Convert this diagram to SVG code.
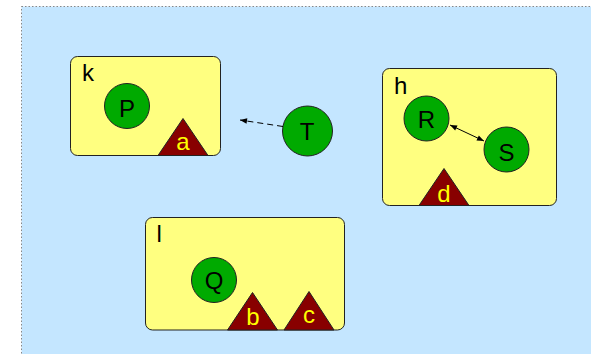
<svg xmlns="http://www.w3.org/2000/svg" width="591" height="354" viewBox="0 0 591 354">
<defs>
<style>
.bg{fill:#c4e6ff;stroke:#888;stroke-width:1;stroke-dasharray:1.5,2}
.box{fill:#ffff80;stroke:#222;stroke-width:1}
.circ{fill:#00aa00;stroke:#222;stroke-width:1}
.tri{fill:#880000;stroke:#222;stroke-width:1}
.lbl{font-family:"Liberation Sans",Arial,sans-serif;font-size:24px;fill:#000}
.nl{font-family:"Liberation Sans",Arial,sans-serif;font-size:24px;fill:#000;text-anchor:middle}
.tl{font-family:"Liberation Sans",Arial,sans-serif;font-size:24px;fill:#ffff00;text-anchor:middle}
.edge{stroke:#000;stroke-width:1;fill:none}
</style>
<marker id="ah" viewBox="0 0 10 10" refX="10" refY="5" markerWidth="9" markerHeight="7" markerUnits="userSpaceOnUse" orient="auto-start-reverse">
<path d="M0,1 L10,5 L0,9 z" fill="#000"/>
</marker>
</defs>
<rect x="21.5" y="6.5" width="580" height="360" class="bg"/>
<g id="k">
<rect x="70.5" y="56.5" width="150" height="99" rx="7" class="box"/>
<text x="82" y="81.3" class="lbl">k</text>
</g>
<g id="P">
<circle cx="127" cy="106" r="22.5" class="circ"/>
<text x="127" y="117.3" class="nl">P</text>
</g>
<g id="a">
<polygon points="183,118.5 158,155.5 208,155.5" class="tri"/>
<text x="183" y="150" class="tl">a</text>
</g>
<g id="T">
<circle cx="307.5" cy="131" r="25" class="circ"/>
<text x="307" y="140" class="nl">T</text>
</g>
<g id="h">
<rect x="382.5" y="68.5" width="174" height="137" rx="7" class="box"/>
<text x="394" y="94" class="lbl">h</text>
</g>
<g id="R">
<circle cx="426.5" cy="118.5" r="22.5" class="circ"/>
<text x="426.5" y="128.3" class="nl">R</text>
</g>
<g id="S">
<circle cx="506.5" cy="149.5" r="22.5" class="circ"/>
<text x="506.5" y="160.5" class="nl">S</text>
</g>
<g id="d">
<polygon points="444,168.5 419,205.5 469,205.5" class="tri"/>
<text x="444" y="201.7" class="tl">d</text>
</g>
<g id="l">
<rect x="145.5" y="217.5" width="199" height="112.5" rx="7" class="box"/>
<text x="156.5" y="242.3" class="lbl">l</text>
</g>
<g id="Q">
<circle cx="214" cy="280" r="22.5" class="circ"/>
<text x="214" y="288.5" class="nl">Q</text>
</g>
<g id="b">
<polygon points="252.5,292.5 227.5,330 277.5,330" class="tri"/>
<text x="253" y="325" class="tl">b</text>
</g>
<g id="c">
<polygon points="309,291.5 284,330 334,330" class="tri"/>
<text x="309" y="323" class="tl">c</text>
</g>
<g id="edges">
<line x1="283" y1="126.5" x2="240" y2="120" class="edge" stroke-dasharray="6,4" marker-end="url(#ah)"/>
<line x1="450" y1="125" x2="484" y2="141" class="edge" marker-start="url(#ah)" marker-end="url(#ah)"/>
</g>
</svg>
